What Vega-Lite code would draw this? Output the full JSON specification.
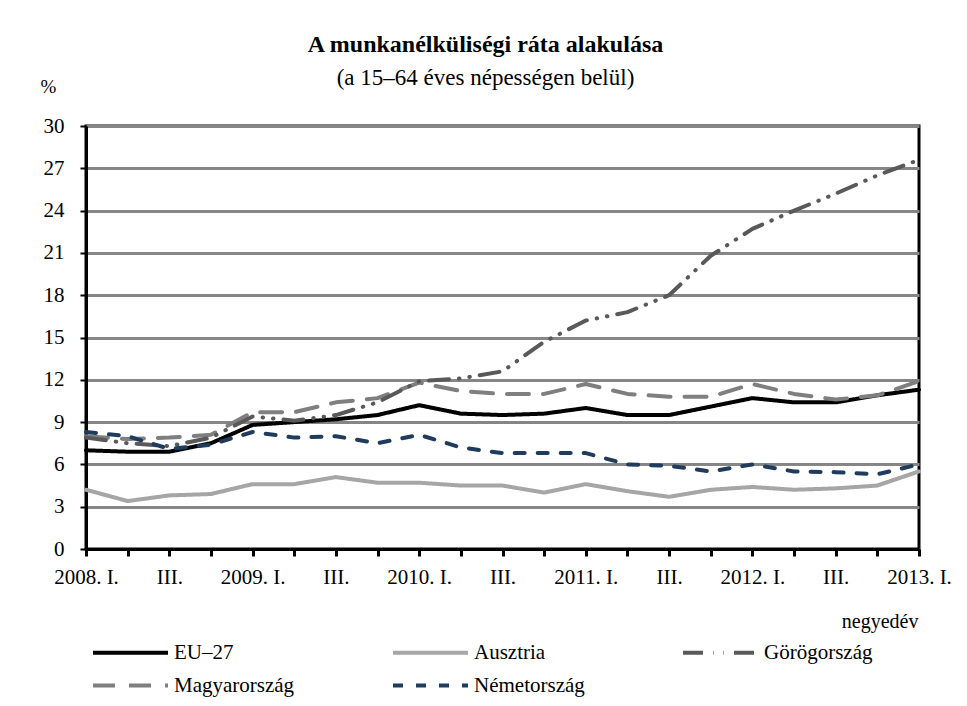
{
  "$schema": "https://vega.github.io/schema/vega-lite/v6.json",
  "width": 833,
  "height": 423,
  "autosize": {"type": "none"},
  "padding": {"left": 86, "top": 126, "right": 48, "bottom": 157},
  "background": "white",
  "config": {
    "font": "Liberation Serif",
    "view": {"stroke": "black", "strokeWidth": 3},
    "axis": {"labelFont": "Liberation Serif", "titleFont": "Liberation Serif", "labelColor": "black", "titleColor": "black"}
  },
  "title": {
    "text": "A munkanélküliségi ráta alakulása",
    "subtitle": "(a 15–64 éves népességen belül)",
    "anchor": "middle",
    "dx": -17,
    "fontSize": 24,
    "fontWeight": "bold",
    "color": "black",
    "subtitleFontSize": 23,
    "subtitleColor": "black",
    "subtitleFont": "Liberation Serif",
    "subtitlePadding": 10,
    "offset": -13
  },
  "data": {
    "values": [
      {"q": "2008. I.", "s": "Ausztria", "v": 4.2}, {"q": "2008. II.", "s": "Ausztria", "v": 3.4}, {"q": "2008. III.", "s": "Ausztria", "v": 3.8}, {"q": "2008. IV.", "s": "Ausztria", "v": 3.9},
      {"q": "2009. I.", "s": "Ausztria", "v": 4.6}, {"q": "2009. II.", "s": "Ausztria", "v": 4.6}, {"q": "2009. III.", "s": "Ausztria", "v": 5.1}, {"q": "2009. IV.", "s": "Ausztria", "v": 4.7},
      {"q": "2010. I.", "s": "Ausztria", "v": 4.7}, {"q": "2010. II.", "s": "Ausztria", "v": 4.5}, {"q": "2010. III.", "s": "Ausztria", "v": 4.5}, {"q": "2010. IV.", "s": "Ausztria", "v": 4.0},
      {"q": "2011. I.", "s": "Ausztria", "v": 4.6}, {"q": "2011. II.", "s": "Ausztria", "v": 4.1}, {"q": "2011. III.", "s": "Ausztria", "v": 3.7}, {"q": "2011. IV.", "s": "Ausztria", "v": 4.2},
      {"q": "2012. I.", "s": "Ausztria", "v": 4.4}, {"q": "2012. II.", "s": "Ausztria", "v": 4.2}, {"q": "2012. III.", "s": "Ausztria", "v": 4.3}, {"q": "2012. IV.", "s": "Ausztria", "v": 4.5},
      {"q": "2013. I.", "s": "Ausztria", "v": 5.5},

      {"q": "2008. I.", "s": "EU–27", "v": 7.0}, {"q": "2008. II.", "s": "EU–27", "v": 6.9}, {"q": "2008. III.", "s": "EU–27", "v": 6.9}, {"q": "2008. IV.", "s": "EU–27", "v": 7.5},
      {"q": "2009. I.", "s": "EU–27", "v": 8.8}, {"q": "2009. II.", "s": "EU–27", "v": 9.0}, {"q": "2009. III.", "s": "EU–27", "v": 9.2}, {"q": "2009. IV.", "s": "EU–27", "v": 9.5},
      {"q": "2010. I.", "s": "EU–27", "v": 10.2}, {"q": "2010. II.", "s": "EU–27", "v": 9.6}, {"q": "2010. III.", "s": "EU–27", "v": 9.5}, {"q": "2010. IV.", "s": "EU–27", "v": 9.6},
      {"q": "2011. I.", "s": "EU–27", "v": 10.0}, {"q": "2011. II.", "s": "EU–27", "v": 9.5}, {"q": "2011. III.", "s": "EU–27", "v": 9.5}, {"q": "2011. IV.", "s": "EU–27", "v": 10.1},
      {"q": "2012. I.", "s": "EU–27", "v": 10.7}, {"q": "2012. II.", "s": "EU–27", "v": 10.4}, {"q": "2012. III.", "s": "EU–27", "v": 10.4}, {"q": "2012. IV.", "s": "EU–27", "v": 10.9},
      {"q": "2013. I.", "s": "EU–27", "v": 11.3},

      {"q": "2008. I.", "s": "Magyarország", "v": 8.0}, {"q": "2008. II.", "s": "Magyarország", "v": 7.8}, {"q": "2008. III.", "s": "Magyarország", "v": 7.9}, {"q": "2008. IV.", "s": "Magyarország", "v": 8.1},
      {"q": "2009. I.", "s": "Magyarország", "v": 9.7}, {"q": "2009. II.", "s": "Magyarország", "v": 9.7}, {"q": "2009. III.", "s": "Magyarország", "v": 10.4}, {"q": "2009. IV.", "s": "Magyarország", "v": 10.7},
      {"q": "2010. I.", "s": "Magyarország", "v": 11.8}, {"q": "2010. II.", "s": "Magyarország", "v": 11.2}, {"q": "2010. III.", "s": "Magyarország", "v": 11.0}, {"q": "2010. IV.", "s": "Magyarország", "v": 11.0},
      {"q": "2011. I.", "s": "Magyarország", "v": 11.7}, {"q": "2011. II.", "s": "Magyarország", "v": 11.0}, {"q": "2011. III.", "s": "Magyarország", "v": 10.8}, {"q": "2011. IV.", "s": "Magyarország", "v": 10.8},
      {"q": "2012. I.", "s": "Magyarország", "v": 11.7}, {"q": "2012. II.", "s": "Magyarország", "v": 11.0}, {"q": "2012. III.", "s": "Magyarország", "v": 10.6}, {"q": "2012. IV.", "s": "Magyarország", "v": 10.9},
      {"q": "2013. I.", "s": "Magyarország", "v": 11.9},

      {"q": "2008. I.", "s": "Görögország", "v": 7.9}, {"q": "2008. II.", "s": "Görögország", "v": 7.5}, {"q": "2008. III.", "s": "Görögország", "v": 7.3}, {"q": "2008. IV.", "s": "Görögország", "v": 7.9},
      {"q": "2009. I.", "s": "Görögország", "v": 9.4}, {"q": "2009. II.", "s": "Görögország", "v": 9.1}, {"q": "2009. III.", "s": "Görögország", "v": 9.5}, {"q": "2009. IV.", "s": "Görögország", "v": 10.4},
      {"q": "2010. I.", "s": "Görögország", "v": 11.9}, {"q": "2010. II.", "s": "Görögország", "v": 12.1}, {"q": "2010. III.", "s": "Görögország", "v": 12.6}, {"q": "2010. IV.", "s": "Görögország", "v": 14.7},
      {"q": "2011. I.", "s": "Görögország", "v": 16.2}, {"q": "2011. II.", "s": "Görögország", "v": 16.8}, {"q": "2011. III.", "s": "Görögország", "v": 18.0}, {"q": "2011. IV.", "s": "Görögország", "v": 20.8},
      {"q": "2012. I.", "s": "Görögország", "v": 22.7}, {"q": "2012. II.", "s": "Görögország", "v": 24.0}, {"q": "2012. III.", "s": "Görögország", "v": 25.2}, {"q": "2012. IV.", "s": "Görögország", "v": 26.5},
      {"q": "2013. I.", "s": "Görögország", "v": 27.6},

      {"q": "2008. I.", "s": "Németország", "v": 8.3}, {"q": "2008. II.", "s": "Németország", "v": 8.0}, {"q": "2008. III.", "s": "Németország", "v": 7.1}, {"q": "2008. IV.", "s": "Németország", "v": 7.4},
      {"q": "2009. I.", "s": "Németország", "v": 8.3}, {"q": "2009. II.", "s": "Németország", "v": 7.9}, {"q": "2009. III.", "s": "Németország", "v": 8.0}, {"q": "2009. IV.", "s": "Németország", "v": 7.5},
      {"q": "2010. I.", "s": "Németország", "v": 8.1}, {"q": "2010. II.", "s": "Németország", "v": 7.2}, {"q": "2010. III.", "s": "Németország", "v": 6.8}, {"q": "2010. IV.", "s": "Németország", "v": 6.8},
      {"q": "2011. I.", "s": "Németország", "v": 6.8}, {"q": "2011. II.", "s": "Németország", "v": 6.0}, {"q": "2011. III.", "s": "Németország", "v": 5.9}, {"q": "2011. IV.", "s": "Németország", "v": 5.5},
      {"q": "2012. I.", "s": "Németország", "v": 6.0}, {"q": "2012. II.", "s": "Németország", "v": 5.5}, {"q": "2012. III.", "s": "Németország", "v": 5.45}, {"q": "2012. IV.", "s": "Németország", "v": 5.3},
      {"q": "2013. I.", "s": "Németország", "v": 6.0}
    ]
  },
  "mark": {"type": "line", "strokeWidth": 4, "strokeCap": "round", "strokeJoin": "round"},
  "encoding": {
    "x": {
      "field": "q",
      "type": "ordinal",
      "sort": null,
      "scale": {"type": "point", "padding": 0},
      "axis": {
        "title": "negyedév",
        "titleFontSize": 20,
        "titleFontWeight": "normal",
        "titleAnchor": "end",
        "titleAlign": "right",
        "titleX": 832,
        "titleY": 62,
        "labelAngle": 0,
        "labelFontSize": 21,
        "labelPadding": 10,
        "labelOverlap": false,
        "labelExpr": "indexof(datum.value, 'III.') >= 0 ? 'III.' : (slice(datum.value, -3) == ' I.' ? datum.value : '')",
        "domainColor": "black",
        "domainWidth": 3,
        "tickColor": "black",
        "tickWidth": 3,
        "tickSize": 7,
        "grid": false
      }
    },
    "y": {
      "field": "v",
      "type": "quantitative",
      "scale": {"domain": [0, 30], "nice": false},
      "axis": {
        "values": [0, 3, 6, 9, 12, 15, 18, 21, 24, 27, 30],
        "title": "%",
        "titleAngle": 0,
        "titleFontSize": 19,
        "titleFontWeight": "normal",
        "titleX": -46,
        "titleY": -30,
        "titleAlign": "left",
        "labelFontSize": 21,
        "labelPadding": 16,
        "domainColor": "black",
        "domainWidth": 3,
        "tickColor": "black",
        "tickWidth": 2,
        "tickSize": 6,
        "gridColor": "#868686",
        "gridWidth": 3
      }
    },
    "color": {
      "field": "s",
      "type": "nominal",
      "scale": {
        "domain": ["EU–27", "Ausztria", "Görögország", "Magyarország", "Németország"],
        "range": ["#000000", "#A6A6A6", "#595959", "#7F7F7F", "#1F3B5E"]
      },
      "legend": {
        "title": null,
        "orient": "none",
        "legendX": 34,
        "legendY": 516,
        "direction": "horizontal",
        "columns": 3,
        "columnPadding": 90,
        "rowPadding": 11,
        "symbolType": "M-5,0H5",
        "symbolSize": 225,
        "symbolStrokeWidth": 4,
        "labelFontSize": 21,
        "labelColor": "black",
        "labelOffset": 33,
        "labelLimit": 300
      }
    },
    "strokeDash": {
      "field": "s",
      "type": "nominal",
      "scale": {
        "domain": ["EU–27", "Ausztria", "Görögország", "Magyarország", "Németország"],
        "range": [[1, 0], [1, 0], [20, 10, 0.5, 10, 0.5, 10], [22, 14], [10, 13]]
      },
      "legend": null
    }
  }
}
